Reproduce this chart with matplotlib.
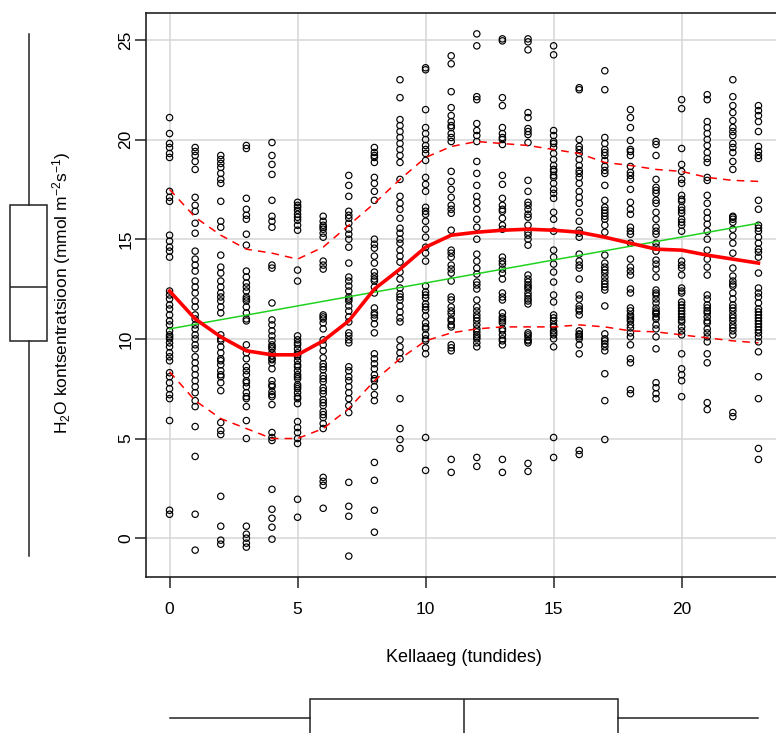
import numpy as np
import matplotlib.pyplot as plt

plt.rcParams['font.family'] = 'Liberation Sans'
plt.rcParams['mathtext.fontset'] = 'custom'
plt.rcParams['mathtext.rm'] = 'Liberation Sans'
plt.rcParams['mathtext.it'] = 'Liberation Sans:italic'

# H2O concentration measurements, 40 per hour of day
hours = np.arange(24)
h0 = [21.1, 20.3, 19.8, 19.6, 19.3, 19.1, 17.4, 17.1, 16.9, 15.2, 14.9, 14.6, 14.4, 14.1, 12.4, 12.2, 12.0, 11.7,
      11.5, 11.2, 10.9, 10.7, 10.4, 10.2, 10.1, 10.0, 9.8, 9.6, 9.3, 9.1, 8.9, 8.3, 8.1, 7.8, 7.5, 7.2, 7.0, 5.9, 1.4,
      1.2]
h1 = [19.6, 19.4, 19.2, 18.9, 18.5, 17.1, 16.7, 16.4, 15.8, 15.3, 14.4, 14.0, 13.7, 13.4, 12.9, 12.6, 12.3, 11.9,
      11.6, 11.2, 11.0, 10.7, 10.5, 10.2, 10.0, 9.7, 9.5, 9.1, 8.8, 8.5, 8.2, 7.9, 7.6, 7.3, 6.9, 6.6, 5.6, 4.1, 1.2,
      -0.6]
h2 = [19.2, 19.0, 18.8, 18.6, 18.3, 18.0, 17.8, 16.9, 15.9, 15.6, 14.2, 13.6, 13.3, 12.9, 12.6, 12.3, 12.1, 11.9,
      11.6, 11.3, 10.2, 10.0, 9.9, 9.6, 9.3, 9.0, 8.9, 8.7, 8.4, 8.2, 8.1, 7.8, 7.4, 5.8, 5.4, 5.2, 2.1, 0.6, -0.1, -0.3]
h3 = [19.7, 19.55, 17.05, 16.5, 16.2, 16.0, 15.25, 14.7, 13.4, 13.1, 12.8, 12.6, 12.4, 12.1, 12.0, 11.9, 11.6, 11.3,
      11.0, 10.9, 9.7, 9.3, 9.0, 8.6, 8.4, 8.2, 7.9, 7.8, 7.6, 7.3, 7.1, 7.0, 6.6, 5.9, 5.0, 0.6, 0.2, 0.0, -0.25, -0.45]
h4 = [19.85, 19.2, 18.75, 18.25, 16.95, 16.15, 15.9, 15.6, 13.7, 13.55, 11.8, 10.95, 10.7, 10.4, 10.15, 9.9, 9.7,
      9.6, 9.5, 9.3, 9.15, 9.0, 8.95, 8.8, 8.5, 7.9, 7.7, 7.6, 7.35, 7.2, 7.1, 6.7, 5.3, 5.05, 4.9, 2.45, 1.45, 1.0,
      0.55, -0.05]
h5 = [16.85, 16.7, 16.6, 16.45, 16.25, 16.1, 15.95, 15.7, 15.45, 13.45, 12.9, 10.15, 9.95, 9.8, 9.7, 9.5, 9.3, 9.2,
      9.1, 8.9, 8.7, 8.6, 8.4, 8.2, 8.1, 8.0, 7.7, 7.6, 7.5, 7.3, 7.1, 7.0, 6.75, 5.85, 5.55, 5.3, 5.0, 4.75, 1.95, 1.05]
h6 = [16.15, 15.9, 15.7, 15.6, 15.5, 15.3, 15.1, 13.9, 13.7, 13.5, 11.2, 11.1, 11.0, 10.8, 10.5, 9.95, 9.7, 9.4,
      9.05, 8.75, 8.6, 8.45, 8.15, 8.0, 7.85, 7.55, 7.4, 7.25, 6.95, 6.8, 6.65, 6.35, 6.2, 6.05, 5.75, 5.5, 3.05, 2.85,
      2.65, 1.5]
h7 = [18.2, 17.7, 17.15, 16.4, 16.2, 16.05, 15.8, 15.5, 15.25, 15.0, 14.6, 13.8, 13.1, 12.9, 12.65, 12.4, 12.1, 12.0,
      11.9, 11.65, 11.4, 11.1, 10.85, 10.3, 10.15, 9.95, 9.8, 8.6, 8.4, 8.1, 7.9, 7.6, 7.3, 7.0, 6.65, 6.3, 2.8, 1.6,
      1.1, -0.9]
h8 = [19.6, 19.35, 19.2, 19.1, 18.85, 18.1, 17.8, 17.4, 16.95, 15.0, 14.75, 14.55, 14.15, 13.8, 13.35, 13.15, 13.0,
      12.9, 12.6, 12.3, 11.55, 11.3, 11.2, 11.05, 10.75, 10.3, 9.25, 9.0, 8.75, 8.5, 8.2, 8.0, 7.9, 7.6, 7.2, 6.9, 3.8,
      2.9, 1.4, 0.3]
h9 = [23.0, 22.1, 21.0, 20.7, 20.4, 20.1, 19.8, 19.5, 19.2, 18.85, 18.0, 17.15, 16.8, 16.5, 16.05, 15.55, 15.3, 15.0,
      14.8, 14.45, 14.15, 13.85, 13.35, 13.0, 12.55, 12.25, 12.1, 11.95, 11.65, 11.35, 11.05, 10.85, 9.95, 9.6, 9.3,
      9.0, 7.0, 5.5, 4.95, 4.5]
h10 = [23.6, 23.5, 21.5, 20.6, 20.3, 20.0, 19.7, 19.5, 19.3, 18.95, 18.1, 17.75, 17.4, 16.6, 16.4, 16.25, 15.9, 15.5,
       15.1, 14.6, 14.3, 13.9, 12.65, 12.35, 12.2, 12.05, 11.75, 11.6, 11.45, 11.15, 10.8, 10.6, 10.5, 10.2, 10.0, 9.9,
       9.55, 9.25, 5.05, 3.4]
h11 = [24.2, 23.8, 22.4, 21.6, 21.2, 20.9, 20.7, 20.6, 20.3, 20.1, 19.9, 18.4, 17.9, 17.5, 17.1, 16.7, 16.5, 16.3,
       15.45, 14.45, 14.3, 14.1, 13.7, 13.5, 13.3, 12.9, 12.1, 11.95, 11.6, 11.4, 11.25, 11.0, 10.9, 10.7, 10.6, 9.7,
       9.55, 9.4, 3.95, 3.3]
h12 = [25.3, 24.7, 22.15, 22.0, 20.8, 20.45, 20.2, 19.9, 18.9, 18.3, 17.7, 17.15, 16.85, 16.5, 16.0, 15.6, 15.0,
       14.25, 13.9, 13.55, 13.25, 12.85, 12.7, 12.5, 11.95, 11.6, 11.4, 11.2, 11.05, 10.9, 10.7, 10.5, 10.35, 10.2,
       10.1, 10.0, 9.8, 9.6, 4.05, 3.6]
h13 = [25.05, 24.95, 22.1, 21.7, 20.6, 20.3, 20.1, 20.0, 19.75, 18.2, 17.75, 17.05, 16.7, 16.5, 16.4, 16.05, 15.7,
       15.5, 14.1, 13.9, 13.75, 13.5, 13.3, 13.0, 12.3, 12.1, 11.95, 11.3, 11.1, 11.0, 10.9, 10.8, 10.5, 10.4, 10.2,
       10.0, 9.9, 9.7, 3.95, 3.3]
h14 = [25.05, 24.9, 24.5, 21.35, 21.1, 20.55, 20.4, 20.25, 19.85, 17.95, 17.4, 16.85, 16.7, 16.5, 16.25, 16.1, 15.7,
       15.35, 15.2, 15.0, 14.7, 13.2, 13.0, 12.85, 12.7, 12.6, 12.5, 12.3, 12.15, 12.0, 11.9, 11.75, 10.3, 10.2, 10.1,
       9.95, 9.9, 9.8, 3.75, 3.35]
h15 = [24.7, 24.25, 20.45, 20.2, 19.9, 19.8, 19.6, 19.3, 19.0, 18.7, 18.5, 18.4, 18.2, 18.1, 17.8, 17.5, 17.3, 17.05,
       16.35, 16.0, 15.4, 14.45, 14.1, 13.75, 13.35, 12.85, 12.2, 11.85, 11.2, 11.05, 10.9, 10.7, 10.6, 10.4, 10.3,
       10.2, 10.0, 9.6, 5.05, 4.05]
h16 = [22.6, 22.5, 20.0, 19.65, 19.5, 19.3, 19.0, 18.7, 18.45, 18.3, 18.1, 17.8, 17.4, 17.1, 16.8, 16.35, 15.9, 15.45,
       15.3, 15.1, 14.25, 13.9, 13.7, 13.55, 13.0, 12.2, 12.0, 11.65, 11.5, 11.4, 11.2, 10.4, 10.25, 10.2, 10.1, 10.0,
       9.7, 9.25, 4.4, 4.2]
h17 = [23.45, 22.5, 20.1, 19.8, 19.5, 19.35, 19.2, 18.95, 18.65, 18.45, 18.3, 17.7, 16.95, 16.6, 16.45, 16.3, 16.15,
       16.0, 15.7, 15.35, 14.2, 13.8, 13.6, 13.45, 13.3, 13.1, 12.9, 12.75, 12.6, 12.45, 11.65, 10.25, 10.0, 9.9, 9.75,
       9.6, 9.4, 8.25, 6.9, 4.95]
h18 = [21.5, 21.1, 20.6, 19.95, 19.5, 19.4, 19.2, 18.65, 18.35, 18.2, 18.0, 17.5, 16.85, 16.5, 16.25, 15.6, 15.4,
       15.25, 14.8, 14.0, 13.6, 13.4, 13.2, 12.5, 12.3, 11.55, 11.4, 11.2, 11.1, 11.0, 10.9, 10.7, 10.55, 10.3, 10.1,
       9.7, 9.0, 8.8, 7.45, 7.25]
h19 = [19.9, 19.75, 19.2, 18.0, 17.6, 17.45, 17.3, 16.95, 16.8, 16.35, 16.0, 15.6, 15.4, 15.25, 14.8, 14.6, 14.4,
       13.95, 13.75, 13.5, 13.1, 12.45, 12.3, 12.2, 12.0, 11.8, 11.55, 11.4, 11.3, 11.25, 11.1, 11.0, 10.7, 10.5, 10.1,
       9.5, 7.8, 7.55, 7.25, 7.0]
h20 = [22.0, 21.55, 19.55, 18.75, 18.4, 18.0, 17.8, 17.2, 17.0, 16.9, 16.6, 16.45, 16.3, 16.0, 15.85, 15.7, 15.4,
       13.9, 13.7, 13.55, 13.2, 12.55, 12.4, 12.3, 11.85, 11.7, 11.55, 11.4, 11.25, 11.1, 10.95, 10.85, 10.6, 10.4,
       10.2, 9.25, 8.5, 8.2, 7.9, 7.1]
h21 = [22.25, 22.0, 20.9, 20.6, 20.3, 20.0, 19.7, 19.35, 19.05, 18.85, 18.1, 17.95, 17.2, 16.8, 16.35, 16.05, 15.75,
       15.4, 15.0, 14.45, 14.0, 13.6, 13.2, 12.2, 12.0, 11.7, 11.55, 11.4, 11.3, 11.1, 10.9, 10.8, 10.5, 10.3, 10.1,
       9.85, 9.25, 8.8, 6.8, 6.45]
h22 = [23.0, 22.15, 21.7, 21.35, 20.95, 20.6, 20.4, 20.2, 19.8, 19.6, 19.35, 18.9, 18.5, 16.15, 16.1, 16.0, 15.85,
       15.5, 15.15, 14.8, 14.3, 13.55, 13.15, 12.9, 12.75, 12.65, 12.3, 12.0, 11.7, 11.55, 11.4, 11.2, 11.05, 10.9,
       10.7, 10.55, 10.4, 10.2, 6.3, 6.1]
h23 = [21.7, 21.45, 21.2, 20.9, 20.4, 19.65, 19.4, 19.2, 19.05, 16.95, 16.5, 15.7, 15.55, 15.4, 15.1, 14.8, 14.5,
       14.35, 14.1, 13.3, 12.55, 12.3, 12.1, 11.8, 11.5, 11.35, 11.2, 11.05, 10.9, 10.75, 10.6, 10.45, 10.3, 10.1, 9.85,
       9.35, 8.1, 7.0, 4.5, 3.95]
h2o = [h0, h1, h2, h3, h4, h5, h6, h7, h8, h9, h10, h11,
       h12, h13, h14, h15, h16, h17, h18, h19, h20, h21, h22, h23]
assert all(len(v) == 40 for v in h2o), [len(v) for v in h2o]

# loess smooth and spread, one value per hour
smooth_mid = [12.4, 11.0, 10.1, 9.4, 9.2, 9.2, 9.9, 10.9, 12.5, 13.5, 14.6, 15.2,
              15.35, 15.45, 15.5, 15.45, 15.35, 15.1, 14.8, 14.5, 14.45, 14.2, 14.0, 13.8]
smooth_up = [17.5, 16.1, 15.2, 14.5, 14.3, 14.0, 14.6, 15.7, 16.8, 18.0, 19.1, 19.65,
             19.9, 19.8, 19.7, 19.5, 19.3, 18.85, 18.7, 18.5, 18.4, 18.1, 17.95, 17.9]
smooth_lo = [8.35, 6.9, 6.0, 5.5, 5.0, 5.0, 5.5, 6.5, 7.9, 9.0, 9.9, 10.3,
             10.5, 10.6, 10.6, 10.6, 10.7, 10.6, 10.4, 10.35, 10.2, 10.05, 9.9, 9.8]
# least squares line
lin_x = [0, 23]
lin_y = [10.5, 15.8]

x = np.concatenate([[h] * len(v) for h, v in zip(hours, h2o)])
y = np.concatenate(h2o)


def fivenum(v):
    # Tukey hinges, as R's boxplot uses
    v = np.sort(np.asarray(v, dtype=float))
    n = len(v)
    n4 = np.floor((n + 3) / 2) / 2
    d = np.array([1, n4, (n + 1) / 2, n + 1 - n4, n]) - 1
    f = 0.5 * (v[np.floor(d).astype(int)] + v[np.ceil(d).astype(int)])
    return dict(whislo=f[0], q1=f[1], med=f[2], q3=f[3], whishi=f[4], fliers=[])


W, H = 776, 733
fig = plt.figure(figsize=(W / 100, H / 100), dpi=100)
ax = fig.add_axes([146 / W, 1 - 577 / H, 636 / W, 564 / H])

# R style 4% padding on both axes
xpad = 0.04 * (x.max() - x.min())
ypad = 0.04 * (y.max() - y.min())
xlim = (x.min() - xpad, x.max() + xpad)
ylim = (y.min() - ypad, y.max() + ypad)
ax.set_xlim(xlim)
ax.set_ylim(ylim)

ax.set_xticks([0, 5, 10, 15, 20])
ax.set_yticks([0, 5, 10, 15, 20, 25])
ax.grid(color='#d6d6d6', lw=1.1)
ax.set_axisbelow(True)
for s in ax.spines.values():
    s.set_linewidth(1.2)
    s.set_color('#222222')
ax.tick_params(length=8, width=1.1, color='#222222', labelsize=12.5)
ax.tick_params(axis='x', pad=10)
ax.tick_params(axis='y', labelrotation=90, pad=1)
for lab in ax.get_yticklabels():
    lab.set_va('center')

ax.scatter(x, y, s=21, facecolors='none', edgecolors='black', linewidths=0.85, zorder=2)
ax.plot(lin_x, lin_y, color='#1fd21f', lw=1.1, zorder=3)
ax.plot(hours, smooth_mid, color='red', lw=2.6, zorder=4)
ax.plot(hours, smooth_up, color='red', lw=1.1, ls=(0, (5, 4)), zorder=4)
ax.plot(hours, smooth_lo, color='red', lw=1.1, ls=(0, (5, 4)), zorder=4)

fig.text(464 / W, 1 - 657 / H, 'Kellaaeg (tundides)', ha='center', va='center', fontsize=13)
fig.text(62 / W, 1 - 293 / H, r'H$_2$O kontsentratsioon (mmol m$^{-2}$s$^{-1}$)',
         ha='center', va='center', rotation=90, fontsize=12.5)

box_style = dict(showcaps=False, showfliers=False, patch_artist=True,
                 boxprops=dict(facecolor='white', edgecolor='#222222', lw=1.1),
                 whiskerprops=dict(color='#222222', lw=1.1),
                 medianprops=dict(color='#222222', lw=1.1))

# marginal boxplot of y
axl = fig.add_axes([0, 1 - 577 / H, 60 / W, 564 / H])
axl.set_xlim(0, 60)
axl.set_ylim(ylim)
axl.bxp([fivenum(y)], positions=[28.5], widths=37, **box_style)
axl.axis('off')

# marginal boxplot of x
axb = fig.add_axes([146 / W, 0, 636 / W, 60 / H])
axb.set_xlim(xlim)
axb.set_ylim(0, 60)
axb.bxp([fivenum(x)], positions=[15], widths=38, orientation='horizontal', **box_style)
axb.axis('off')
for a in (axl, axb):
    for art in a.get_children():
        art.set_clip_on(False)

fig.savefig('out.png', dpi=100)
